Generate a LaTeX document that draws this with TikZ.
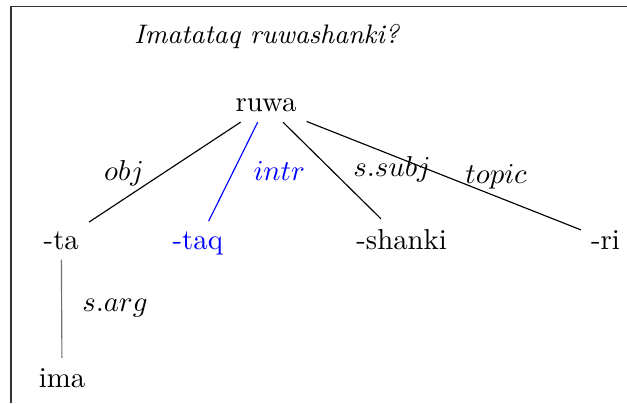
\documentclass[tikz,border=0pt]{standalone}
\usepackage{xcolor}
\usepackage{tikz}
\usepackage{amsmath}
\definecolor{FrameGray}{HTML}{333333}
\definecolor{ArgGray}{HTML}{6E6E6E}
\definecolor{IntrBlue}{HTML}{0000FF}

\begin{document}
\begin{tikzpicture}[
    % Style for the words of the tree
    word/.style = {anchor=base, font=\normalsize},
    % Style for the relation labels
    rel/.style = {anchor=base, inner sep=0pt},
    % Style for the title line
    title/.style = {anchor=base, font=\fontsize{9.3pt}{11pt}\selectfont\itshape},
    link/.style = {thin, color=black},
]
\useasboundingbox (0,0) rectangle (7.651,-4.918);

% --- 1. FRAME ---
\draw[FrameGray, line width=0.4pt] (0.134,-4.918) -- (0.134,-0.079) -- (7.651,-0.079);

% --- 2. DEFINE NODES ---
\node[title] (question) at (3.252,-0.528) {Imatataq ruwashanki?};

% root
\node[word] (ruwa) at (3.246,-1.363) {ruwa};

% suffixes
\node[word] (ta)     at (0.748,-3.039) {-ta};
\node[word, text=IntrBlue] (taq) at (2.414,-3.039) {-taq};
\node[word] (shanki) at (4.901,-3.039) {-shanki};
\node[word] (ri)     at (7.389,-3.039) {-ri};

% argument
\node[word] (ima) at (0.757,-4.723) {ima};

% relation labels
\node[rel] (l_obj)   at (1.513,-2.197) {$obj$};
\node[rel, text=IntrBlue] (l_intr) at (3.407,-2.197) {$intr$};
\node[rel] (l_subj)  at (4.784,-2.148) {$s.subj$};
\node[rel] (l_topic) at (6.053,-2.233) {$topic$};
\node[rel] (l_arg)   at (1.403,-3.804) {$s.arg$};

% --- 3. DRAW CONNECTORS ---
\draw[link] (ruwa) -- (ta);
\draw[link, color=IntrBlue] (ruwa) -- (taq);
\draw[link] (ruwa) -- (shanki);
\draw[link] (ruwa) -- (ri);
\draw[link, color=ArgGray] (ta) -- (ima);

\end{tikzpicture}
\end{document}
